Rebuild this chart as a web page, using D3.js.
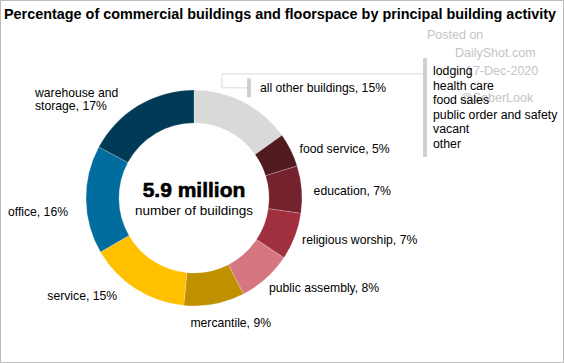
<!DOCTYPE html>
<html>
<head>
<meta charset="utf-8">
<script src="https://cdn.jsdelivr.net/npm/d3@7"></script>
<style>
  body { margin: 0; background: #fff; }
  text { font-family: "Liberation Sans", Arial, sans-serif; }
</style>
</head>
<body>
<svg width="564" height="363"></svg>
<script>
var width = 564, height = 363;

// data, clockwise from 12 o'clock
var categories = ["all other buildings", "food service", "education", "religious worship",
  "public assembly", "mercantile", "service", "office", "warehouse and storage"];
var shares = [15, 5, 7, 7, 8, 9, 15, 16, 17];
var colors = ["#d9d9d9", "#521a21", "#74222e", "#a1303e", "#d57681", "#bf9000", "#ffc000", "#006d9e", "#003a56"];
var otherItems = ["lodging", "health care", "food sales", "public order and safety", "vacant", "other"];
var totalLabel = "5.9 million";
var totalCaption = "number of buildings";

// label nudges relative to the radial anchor (dx, dy, anchor)
var labelNudge = [[11, -4, "start"], [-2, 4, "start"], [0, 2, "start"], [-4, -1, "start"],
  [-5, 0, "start"], [14, 7, "middle"], [-12, -3, "end"], [-6, 12, "end"], [-14, 6, "end"]];

var svg = d3.select("svg");

svg.append("rect").attr("x", 0.5).attr("y", 0.5)
  .attr("width", width - 1).attr("height", height - 1)
  .attr("fill", "#fff").attr("stroke", "#bdbdbd");

svg.append("text").attr("x", 4).attr("y", 19)
  .attr("font-size", 14).attr("font-weight", "bold").attr("fill", "#000")
  .attr("textLength", 552).attr("lengthAdjust", "spacingAndGlyphs")
  .text("Percentage of commercial buildings and floorspace by principal building activity");

// watermark
var wm = svg.append("g").attr("fill", "#c4c4c4").attr("font-size", 12.5);
wm.append("text").attr("x", 427).attr("y", 39).text("Posted on");
wm.append("text").attr("x", 455).attr("y", 57).text("DailyShot.com");
wm.append("text").attr("x", 466).attr("y", 75).text("17-Dec-2020");
wm.append("text").attr("x", 460).attr("y", 102).text("@SoberLook");

var cx = 194, cy = 198, rOuter = 108, rInner = 75, rLabel = 120;

var pie = d3.pie().sort(null).value(function(d) { return d; });
var arcs = pie(shares);
var arc = d3.arc().innerRadius(rInner).outerRadius(rOuter);
var labelArc = d3.arc().innerRadius(rLabel).outerRadius(rLabel);

var g = svg.append("g").attr("transform", "translate(" + cx + "," + cy + ")");

g.selectAll("path.slice").data(arcs).enter().append("path")
  .attr("class", "slice")
  .attr("d", arc)
  .attr("fill", function(d, i) { return colors[i]; })
  .attr("stroke", "#fff").attr("stroke-opacity", 0.35).attr("stroke-width", 0.6);

g.append("text").attr("x", 0).attr("y", -1).attr("text-anchor", "middle")
  .attr("font-size", 21).attr("font-weight", "900")
  .attr("stroke", "#000").attr("stroke-width", 0.6)
  .text(totalLabel);
g.append("text").attr("x", 0).attr("y", 17).attr("text-anchor", "middle")
  .attr("font-size", 13.5).text(totalCaption);

// labels
function labelText(i) {
  return categories[i] + ", " + shares[i] + "%";
}
arcs.forEach(function(d, i) {
  var p = labelArc.centroid(d);
  var n = labelNudge[i];
  var x = p[0] + n[0], y = p[1] + n[1];
  var t = g.append("text").attr("x", x).attr("y", y).attr("text-anchor", n[2])
    .attr("font-size", 12.2).attr("fill", "#000");
  if (categories[i] === "warehouse and storage") {
    t.attr("text-anchor", "start");
    t.append("tspan").attr("x", 35 - cx).attr("dy", "-0.35em").text("warehouse and");
    t.append("tspan").attr("x", 35 - cx).attr("dy", "1.1em").text("storage, " + shares[i] + "%");
  } else {
    t.attr("dy", "0.35em").text(labelText(i));
  }
  if (i === 0) {
    // callout bracket for the "all other buildings" group
    var bx = p[0], by = p[1] - 3.5;
    var listX = 425 - cx;
    g.append("path")
      .attr("d", "M" + bx + "," + (by) + "H" + (bx - 27) + "V" + (by - 14) + "H" + listX)
      .attr("fill", "none").attr("stroke", "#d9d9d9").attr("stroke-width", 1);
    g.append("rect").attr("x", bx - 2).attr("y", by - 9.5).attr("width", 4).attr("height", 19)
      .attr("fill", "#d0d0d0");
    g.append("rect").attr("x", listX - 2).attr("y", 58 - cy).attr("width", 4).attr("height", 99)
      .attr("fill", "#d0d0d0");
    var list = svg.append("text").attr("font-size", 12.3).attr("fill", "#000");
    otherItems.forEach(function(s, k) {
      list.append("tspan").attr("x", 433).attr("y", 75 + k * 14.6).text(s);
    });
  }
});
</script>
</body>
</html>
